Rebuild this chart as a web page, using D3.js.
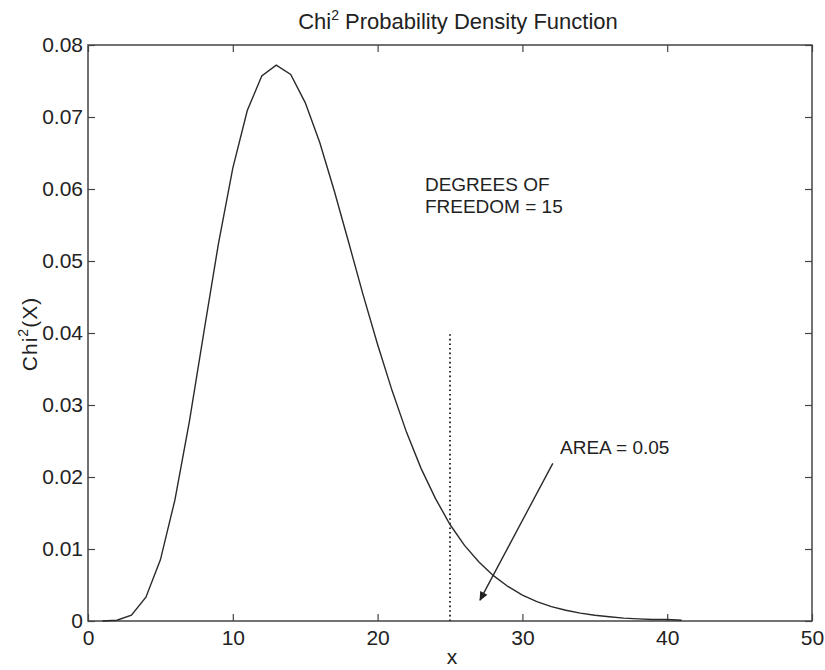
<!DOCTYPE html>
<html><head><meta charset="utf-8">
<script src="https://cdn.jsdelivr.net/npm/d3@7"></script>
<style>body{margin:0;background:#fff}</style>
</head><body><svg id="c" width="825" height="670"></svg>
<script>
// ---- data ----
const xValues = [1,2,3,4,5,6,7,8,9,10,11,12,13,14,15,16,17,18,19,20,21,22,23,24,25,26,27,28,29,30,31,32,33,34,35,36,37,38,39,40,41];
const density = [0.0000,0.0001,0.0008,0.0033,0.0085,0.0168,0.0277,0.0401,0.0523,0.0629,0.0709,0.0757,0.0772,0.0759,0.0720,0.0665,0.0598,0.0526,0.0453,0.0384,0.0320,0.0262,0.0212,0.0170,0.0134,0.0105,0.0082,0.0063,0.0048,0.0036,0.0027,0.0020,0.0015,0.0011,0.0008,0.0006,0.0004,0.0003,0.0002,0.0002,0.0001];
const xTicks = [0,10,20,30,40,50];
const xTickLabels = ["0","10","20","30","40","50"];
const yTicks = [0,0.01,0.02,0.03,0.04,0.05,0.06,0.07,0.08];
const yTickLabels = ["0","0.01","0.02","0.03","0.04","0.05","0.06","0.07","0.08"];
const critX = [25,25];
const critY = [0,0.04];
const arrowX = [32.1,27.07];
const arrowY = [0.0219,0.0029];
const dofLines = ["DEGREES OF","FREEDOM = 15"];
const dofPos = [23.27,0.0597];
const areaText = "AREA = 0.05";
const areaPos = [32.6,0.0232];

// ---- layout ----
const L=88,R=812,T=45,B=621;
const svg=d3.select("#c");
const font="'Liberation Sans',Arial,Helvetica,sans-serif";
const xs=d3.scaleLinear().domain([0,50]).range([L,R]);
const ys=d3.scaleLinear().domain([0,0.08]).range([B,T]);
const ink="#2a2a2a";

// axes with inward ticks
const ax=svg.append("g").attr("font-family",font);
ax.append("g").attr("transform",`translate(0,${B})`)
  .call(d3.axisBottom(xs).tickValues(xTicks).tickFormat((d,i)=>xTickLabels[i]).tickSizeInner(-7).tickSizeOuter(0).tickPadding(9));
ax.append("g").attr("transform",`translate(${L},0)`)
  .call(d3.axisLeft(ys).tickValues(yTicks).tickFormat((d,i)=>yTickLabels[i]).tickSizeInner(-7).tickSizeOuter(0).tickPadding(5));
ax.append("g").attr("transform",`translate(0,${T})`)
  .call(d3.axisTop(xs).tickValues(xTicks).tickFormat("").tickSizeInner(-7).tickSizeOuter(0));
ax.append("g").attr("transform",`translate(${R},0)`)
  .call(d3.axisRight(ys).tickValues(yTicks).tickFormat("").tickSizeInner(-7).tickSizeOuter(0));
ax.selectAll(".domain").remove();
ax.selectAll(".tick line").attr("stroke","#444").attr("stroke-width",1.2);
ax.selectAll(".tick text").attr("font-size",21).attr("fill","#222");
svg.append("rect").attr("x",L).attr("y",T).attr("width",R-L).attr("height",B-T)
  .attr("fill","none").attr("stroke","#444").attr("stroke-width",1.5);

// curve
const pts=xValues.map((v,i)=>[v,density[i]]);
svg.append("path").datum(pts)
  .attr("d",d3.line().x(d=>xs(d[0])).y(d=>ys(d[1])))
  .attr("fill","none").attr("stroke",ink).attr("stroke-width",1.4);

// critical value dotted line
svg.append("path").datum(critX.map((v,i)=>[v,critY[i]]))
  .attr("d",d3.line().x(d=>xs(d[0])).y(d=>ys(d[1])))
  .attr("fill","none").attr("stroke","#333").attr("stroke-width",2).attr("stroke-dasharray","1.6,3");

// arrow
svg.append("defs").append("marker").attr("id","ah").attr("viewBox","0 0 10 10")
  .attr("refX",9).attr("refY",5).attr("markerWidth",13).attr("markerHeight",9)
  .attr("markerUnits","userSpaceOnUse").attr("orient","auto")
  .append("path").attr("d","M0,0.5L10,5L0,9.5Z").attr("fill","#222");
svg.append("path").datum(arrowX.map((v,i)=>[v,arrowY[i]]))
  .attr("d",d3.line().x(d=>xs(d[0])).y(d=>ys(d[1])))
  .attr("fill","none").attr("stroke",ink).attr("stroke-width",1.4).attr("marker-end","url(#ah)");

// annotations
const ann=svg.append("g").attr("font-family",font).attr("font-size",19).attr("fill","#222");
ann.selectAll("text.dof").data(dofLines).join("text").attr("class","dof")
  .attr("x",xs(dofPos[0])).attr("y",(d,i)=>ys(dofPos[1])+i*22).text(d=>d);
ann.append("text").attr("x",xs(areaPos[0])).attr("y",ys(areaPos[1])).text(areaText);

// title
const title=svg.append("text").attr("x",(L+R)/2+8).attr("y",29).attr("text-anchor","middle")
  .attr("font-family",font).attr("font-size",22).attr("fill","#222");
title.append("tspan").text("Chi");
title.append("tspan").attr("font-size",14).attr("dy",-9).text("2");
title.append("tspan").attr("dy",9).text(" Probability Density Function");

// axis labels
svg.append("text").attr("x",(L+R)/2+2).attr("y",664).attr("text-anchor","middle")
  .attr("font-family",font).attr("font-size",21).attr("fill","#222").text("x");
const yl=svg.append("text").attr("transform","translate(37,334) rotate(-90)").attr("text-anchor","middle")
  .attr("font-family",font).attr("font-size",21).attr("fill","#222").attr("letter-spacing",1);
yl.append("tspan").text("Chi");
yl.append("tspan").attr("font-size",14).attr("dy",-9).text("2");
yl.append("tspan").attr("dy",9).text("(X)");
</script></body></html>
